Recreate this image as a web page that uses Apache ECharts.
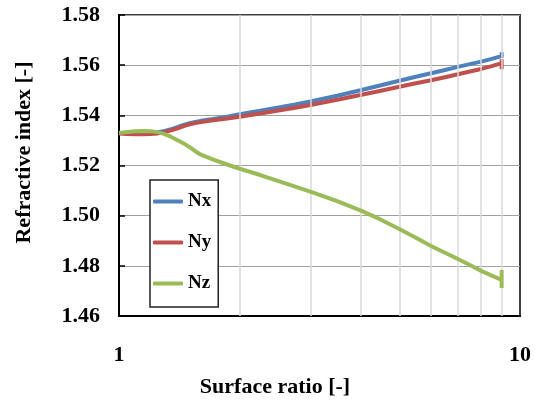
<!DOCTYPE html>
<html>
<head>
<meta charset="utf-8">
<script src="https://cdn.jsdelivr.net/npm/echarts@6/dist/echarts.min.js"></script>
<style>html,body{margin:0;padding:0;background:#fff;}#c{width:540px;height:403px;}</style>
</head>
<body>
<div id="c"></div>
<script>
var xs = [1,1.05,1.1,1.15,1.2,1.25,1.3,1.35,1.4,1.45,1.5,1.55,1.6,1.7,1.8,1.9,2,2.25,2.5,2.75,3,3.5,4,4.5,5,5.5,6,6.5,7,7.5,8,8.5,9,9,9];
var nx = [1.5330,1.5329,1.5329,1.5330,1.5331,1.5333,1.5338,1.5345,1.5353,1.5362,1.5369,1.5374,1.5378,1.5384,1.5390,1.5397,1.5404,1.5418,1.5431,1.5443,1.5455,1.5478,1.5500,1.5520,1.5538,1.5554,1.5568,1.5581,1.5593,1.5604,1.5614,1.5625,1.5636,1.5651,1.5630];
var ny = [1.5328,1.5326,1.5325,1.5325,1.5326,1.5328,1.5333,1.5340,1.5348,1.5357,1.5364,1.5369,1.5373,1.5379,1.5384,1.5389,1.5394,1.5407,1.5419,1.5430,1.5441,1.5462,1.5481,1.5498,1.5514,1.5528,1.5540,1.5552,1.5564,1.5575,1.5585,1.5596,1.5608,1.5624,1.5584];
var nz = [1.5330,1.5334,1.5337,1.5338,1.5337,1.5333,1.5325,1.5314,1.5301,1.5288,1.5273,1.5257,1.5243,1.5226,1.5212,1.5199,1.5187,1.5162,1.5138,1.5116,1.5096,1.5058,1.5021,1.4984,1.4947,1.4912,1.4879,1.4852,1.4827,1.4803,1.4780,1.4761,1.4744,1.4783,1.4712];
var seriesNames = ['Nx','Ny','Nz'];
var xMinorGrid = [2,3,4,5,6,7,8,9];
var xTickLabels = [1,10];

function pairs(ys){ return xs.map(function(x,i){ return [x, ys[i]]; }); }
var font = 'Liberation Serif';
var colors = ['#4F81BD','#C0504D','#9BBB59'];
var chart = echarts.init(document.getElementById('c'), null, {renderer:'canvas'});
var lineSeries = [nx, ny, nz].map(function(d, i){
  return {
    name: seriesNames[i], type: 'line', data: pairs(d), showSymbol: false, symbol: 'none',
    lineStyle: {width: 4, color: colors[i]}, itemStyle: {color: colors[i]}, z: 3 + i, animation: false
  };
});
lineSeries.unshift({
  type: 'line', data: [[1, 1.46]], symbol: 'none', lineStyle: {opacity: 0}, silent: true, z: 1, animation: false,
  markLine: {
    silent: true, symbol: 'none', label: {show: false}, animation: false,
    lineStyle: {color: '#d9d9d9', width: 1.5, type: 'solid'},
    data: xMinorGrid.map(function(v){ return {xAxis: v}; })
  }
});
chart.setOption({
  animation: false,
  backgroundColor: '#fff',
  grid: {left: 119, top: 15, right: 20, bottom: 85, show: true, borderColor: '#404040', borderWidth: 2, backgroundColor: 'transparent'},
  legend: {
    data: seriesNames.map(function(n){ return {name: n, icon: 'roundRect'}; }),
    orient: 'vertical', left: 150, top: 180,
    backgroundColor: '#fff', borderColor: '#222', borderWidth: 1.5,
    padding: [11, 7, 13, 3], itemGap: 20, itemWidth: 30, itemHeight: 4,
    textStyle: {fontFamily: font, fontWeight: 'bold', fontSize: 19, color: '#000', lineHeight: 21}
  },
  xAxis: {
    type: 'log', logBase: 10, min: 1, max: 10,
    name: 'Surface ratio [-]', nameLocation: 'middle', nameGap: 60,
    nameTextStyle: {fontFamily: font, fontWeight: 'bold', fontSize: 22, color: '#000', padding: [0, 89, 0, 0]},
    axisLine: {show: true, lineStyle: {color: '#000', width: 2}},
    axisTick: {show: false},
    splitLine: {show: false},
    axisLabel: {
      margin: 28, fontFamily: font, fontWeight: 'bold', fontSize: 22, color: '#000',
      formatter: function(v){ return xTickLabels.indexOf(Math.round(v)) >= 0 ? String(Math.round(v)) : ''; }
    }
  },
  yAxis: {
    type: 'value', min: 1.46, max: 1.58, interval: 0.02,
    name: 'Refractive index [-]', nameLocation: 'middle', nameGap: 84,
    nameTextStyle: {fontFamily: font, fontWeight: 'bold', fontSize: 22, color: '#000', padding: [0, 0, 0, 26]},
    axisLine: {show: true, lineStyle: {color: '#000', width: 2}},
    axisTick: {show: true, inside: true, length: 6, lineStyle: {color: '#000', width: 1.5}},
    splitLine: {show: true, lineStyle: {color: '#a0a0a0', width: 1}},
    axisLabel: {
      margin: 19, fontFamily: font, fontWeight: 'bold', fontSize: 22, color: '#000',
      formatter: function(v){ return v.toFixed(2); }
    }
  },
  series: lineSeries
});
</script>
</body>
</html>
